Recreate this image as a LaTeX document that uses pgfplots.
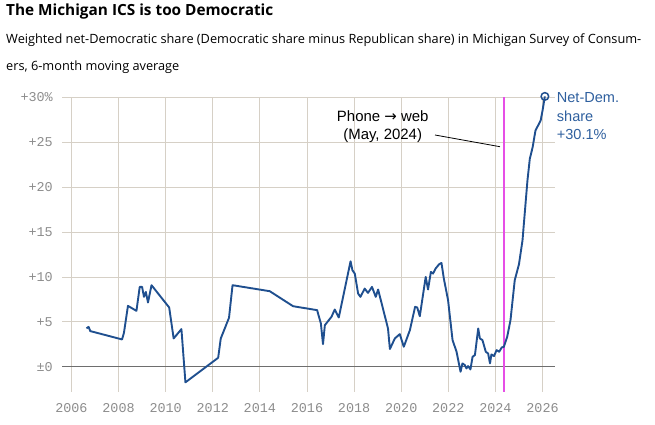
\documentclass[border=0pt]{standalone}
\usepackage{pgfplots}
\pgfplotsset{compat=1.18}
\usepackage{fontspec}
\setmainfont{Open Sans}
\newfontfamily\labfont{Liberation Sans}
\newfontfamily\monofont{Liberation Mono}
\newfontfamily\dejavu{DejaVu Sans}
\definecolor{lineblue}{HTML}{1F4F8F}
\definecolor{labblue}{HTML}{2E5F9E}
\definecolor{gridc}{HTML}{D6D0C6}
\definecolor{tickc}{HTML}{8C8C8C}
\definecolor{zeroc}{HTML}{6E6E6E}
\definecolor{pinkc}{HTML}{E64FE6}
\begin{document}
\begin{tikzpicture}[x=1bp,y=1bp]
\path[use as bounding box] (0,0) rectangle (655,424);
\node[anchor=base west,inner sep=0] at (6,408) {\fontsize{15.4}{18}\selectfont\bfseries The Michigan ICS is too Democratic};
\node[anchor=base west,inner sep=0] at (6,380.7) {\fontsize{12.8}{15}\selectfont Weighted net-Democratic share (Democratic share minus Republican share) in Michigan Survey of Consum-};
\node[anchor=base west,inner sep=0] at (6,354) {\fontsize{12.8}{15}\selectfont ers, 6-month moving average};
\begin{axis}[
  at={(62bp,32.3bp)}, anchor=south west,
  scale only axis, width=493bp, height=294.4bp,
  xmin=2005.6, xmax=2026.53, ymin=-2.78, ymax=30,
  axis line style={draw=none},
  major tick length=0pt,
  xtick={2006,2008,...,2026},
  xticklabels={2006,2008,2010,2012,2014,2016,2018,2020,2022,2024,2026},
  ytick={0,5,10,15,20,25,30},
  yticklabels={±0,+5,+10,+15,+20,+25,+30\%},
  grid=major,
  major grid style={draw=gridc, line width=0.8pt},
  xticklabel style={font=\monofont\fontsize{13.5}{15}\selectfont, text=tickc, inner sep=0pt, anchor=center, yshift=-16.3bp},
  yticklabel style={font=\monofont\fontsize{13.5}{15}\selectfont, text=tickc, inner sep=0pt, anchor=east, xshift=-9bp},
  clip=false,
]
\addplot[draw=zeroc, line width=0.8pt] coordinates {(2005.6,0) (2026.53,0)};
\addplot[draw=pinkc, line width=1.3pt] coordinates {(2024.36,-2.78) (2024.36,30)};
\addplot[draw=lineblue, line width=1.9pt, line join=round] coordinates {
(2006.64,4.27) (2006.73,4.44) (2006.80,3.97) (2008.15,3.04) (2008.23,3.78)
(2008.40,6.78) (2008.76,6.22) (2008.90,8.89) (2009.00,8.89) (2009.08,7.78)
(2009.16,8.33) (2009.25,7.15) (2009.40,9.08) (2010.15,6.60) (2010.34,3.15)
(2010.67,4.19) (2010.84,-1.74) (2012.23,1.00) (2012.34,3.15) (2012.69,5.45)
(2012.84,9.08) (2014.42,8.41) (2015.41,6.74) (2016.43,6.30) (2016.59,4.82)
(2016.68,2.52) (2016.76,4.63) (2017.04,5.56) (2017.18,6.37) (2017.35,5.48)
(2017.85,11.74) (2017.93,10.74) (2018.03,10.37) (2018.17,8.15) (2018.27,7.78)
(2018.45,8.70) (2018.59,8.22) (2018.76,8.89) (2018.92,7.78) (2019.02,8.60)
(2019.44,4.26) (2019.52,1.97) (2019.73,3.15) (2019.94,3.63) (2020.11,2.22)
(2020.37,4.08) (2020.59,6.67) (2020.68,6.60) (2020.79,5.63) (2021.04,10.00)
(2021.14,8.60) (2021.26,10.56) (2021.35,10.37) (2021.46,10.93) (2021.61,11.41)
(2021.71,11.56) (2021.81,9.82) (2021.99,7.41) (2022.18,2.97) (2022.35,1.67)
(2022.52,-0.56) (2022.60,0.37) (2022.70,0.19) (2022.77,-0.19) (2022.84,0.07)
(2022.94,-0.30) (2023.03,1.11) (2023.13,1.30) (2023.27,4.26) (2023.34,3.15)
(2023.45,2.97) (2023.59,1.67) (2023.69,1.48) (2023.77,0.37) (2023.83,1.37)
(2023.94,1.19) (2024.05,1.85) (2024.16,1.67) (2024.27,2.15) (2024.36,2.22)
(2024.50,3.33) (2024.64,5.19) (2024.82,9.63) (2025.00,11.41) (2025.15,14.07)
(2025.36,20.74) (2025.46,23.15) (2025.58,24.44) (2025.70,26.30) (2025.92,27.41)
(2026.00,28.52) (2026.10,30.10)
};
\addplot[only marks, mark=o, mark size=3.8pt, mark options={draw=lineblue, fill=white, line width=1.5pt}] coordinates {(2026.10,30.10)};
\end{axis}
\draw[black, line width=0.8pt] (435,289) -- (500,277.3);
\node[anchor=base,inner sep=0] at (382.7,303) {\labfont\fontsize{15}{17}\selectfont Phone {\dejavu →} web};
\node[anchor=base,inner sep=0] at (382.7,285) {\labfont\fontsize{15}{17}\selectfont (May, 2024)};
\node[anchor=base west,inner sep=0,text=labblue] at (556.7,321.5) {\labfont\fontsize{14.6}{16}\selectfont Net-Dem.};
\node[anchor=base west,inner sep=0,text=labblue] at (556.7,303) {\labfont\fontsize{14.6}{16}\selectfont share};
\node[anchor=base west,inner sep=0,text=labblue] at (556.7,284.5) {\labfont\fontsize{14.6}{16}\selectfont +30.1\%};
\end{tikzpicture}
\end{document}
